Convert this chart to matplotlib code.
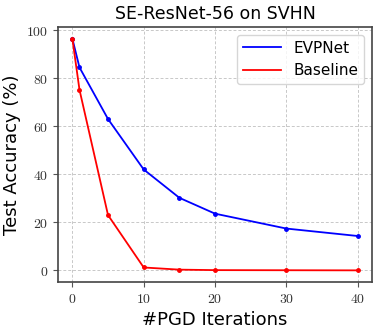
import matplotlib
matplotlib.use("Agg")
import matplotlib.pyplot as plt
from matplotlib.lines import Line2D

plt.rcParams['mathtext.fontset'] = 'cm'

iteraciones = [0, 1, 5, 10, 15, 20, 30, 40]
evpnet = [96.5, 84.5, 63.0, 42.0, 30.2, 23.6, 17.4, 14.3]
baseline = [96.5, 75.2, 23.0, 1.2, 0.3, 0.1, 0.05, 0.0]
xticks = [0, 10, 20, 30, 40]
yticks = [0, 20, 40, 60, 80, 100]

fig, ax = plt.subplots(figsize=(3.82, 3.29), dpi=100)
ax.plot(iteraciones, evpnet, marker='o', color='b', linewidth=1.3, markersize=2.5)
ax.plot(iteraciones, baseline, marker='o', color='r', linewidth=1.3, markersize=2.5)

ax.set_title('SE-ResNet-56 on SVHN', fontsize=12.5)
ax.set_xlabel('#PGD Iterations', fontsize=13)
ax.set_ylabel('Test Accuracy (%)', fontsize=13)
ax.set_xticks(xticks)
ax.set_xticklabels([f'${t}$' for t in xticks])
ax.set_yticks(yticks)
ax.set_yticklabels([f'${t}$' for t in yticks])
ax.tick_params(labelsize=10, colors='#555555', labelcolor='#333333')
ax.grid(True, linestyle=(0, (3, 2)), color='#c8c8c8', linewidth=0.7)
for s in ax.spines.values():
    s.set_color('#444444')
    s.set_linewidth(1.2)

# Leyenda sin marcadores
manejadores = [Line2D([], [], color='b', linewidth=1.3),
               Line2D([], [], color='r', linewidth=1.3)]
ax.legend(manejadores, ['EVPNet', 'Baseline'], fontsize=11, loc='upper right', handlelength=2.5)

plt.subplots_adjust(left=0.152, right=0.974, top=0.918, bottom=0.143)
plt.savefig('out.png', dpi=100)
